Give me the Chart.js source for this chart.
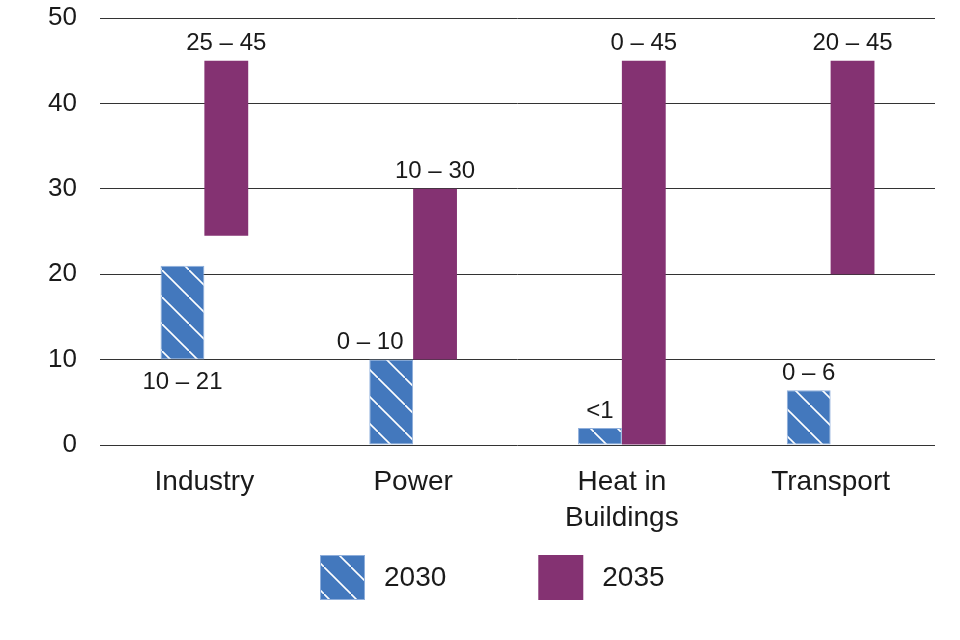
<!DOCTYPE html>
<html>
<head>
<meta charset="utf-8">
<script src="https://cdn.jsdelivr.net/npm/chart.js@4"></script>
<style>
  html, body { margin: 0; padding: 0; background: #fff; }
  #wrap { width: 960px; height: 640px; }
</style>
</head>
<body>
<div id="wrap"><canvas id="chart"></canvas></div>
<script>
const categories = ['Industry', 'Power', ['Heat in', 'Buildings'], 'Transport'];
const seriesNames = ['2030', '2035'];
const low2030 = [10, 0, 0, 0];
const high2030 = [21, 10, 2, 6.4];
const low2035 = [24.5, 10, 0, 20];
const high2035 = [45, 30, 45, 45];
const labels2030 = ['10 \u2013 21', '0 \u2013 10', '<1', '0 \u2013 6'];
const labels2035 = ['25 \u2013 45', '10 \u2013 30', '0 \u2013 45', '20 \u2013 45'];
const yTicks = [0, 10, 20, 30, 40, 50];

const FONT = "'Liberation Sans', Arial, sans-serif";
const BLUE = '#4378bd';
const PURPLE = '#843272';
const TEXT = '#1a1a1a';

function makeHatch() {
    const s = 27;
    const c = document.createElement('canvas');
    c.width = s; c.height = s;
    const g = c.getContext('2d');
    g.fillStyle = BLUE;
    g.fillRect(0, 0, s, s);
    g.strokeStyle = '#ffffff';
    g.lineWidth = 1.6;
    g.beginPath();
    g.moveTo(-2, -2); g.lineTo(s + 2, s + 2);
    g.stroke();
    return g.createPattern(c, 'repeat');
}
const hatch = makeHatch();

const pairs = (lo, hi) => lo.map((v, i) => [v, hi[i]]);

// bar value labels, drawn from the bar elements
const valueLabels = {
    id: 'valueLabels',
    afterDatasetsDraw(chart) {
        const ctx = chart.ctx;
        const texts = [labels2030, labels2035];
        ctx.save();
        ctx.font = '24px ' + FONT;
        ctx.fillStyle = TEXT;
        ctx.textAlign = 'center';
        ctx.textBaseline = 'middle';
        chart.data.datasets.forEach((ds, di) => {
            chart.getDatasetMeta(di).data.forEach((bar, i) => {
                let x = bar.x;
                let y = Math.min(bar.y, bar.base) - 17;
                if (di === 0 && i === 0) y = Math.max(bar.y, bar.base) + 23;
                if (di === 0 && i === 1) x -= 21;
                ctx.fillText(texts[di][i], x, y);
            });
        });
        ctx.restore();
    }
};

// legend below the axis labels
const bottomLegend = {
    id: 'bottomLegend',
    afterDraw(chart) {
        const ctx = chart.ctx;
        const fills = [hatch, PURPLE];
        const box = 45;
        const yTop = 555;
        let x = chart.width / 2 - 160;
        ctx.save();
        ctx.font = '28px ' + FONT;
        ctx.textBaseline = 'middle';
        ctx.textAlign = 'left';
        seriesNames.forEach((name, i) => {
            ctx.fillStyle = fills[i];
            ctx.fillRect(x, yTop, box, box);
            if (i === 0) {
                ctx.strokeStyle = '#8eaedb';
                ctx.lineWidth = 1;
                ctx.strokeRect(x + 0.5, yTop + 0.5, box - 1, box - 1);
            }
            ctx.fillStyle = TEXT;
            ctx.fillText(name, x + box + 19, yTop + box / 2 + 1);
            x += box + 19 + ctx.measureText(name).width + 92;
        });
        ctx.restore();
    }
};

new Chart(document.getElementById('chart'), {
    type: 'bar',
    data: {
        labels: categories,
        datasets: [
            {
                label: seriesNames[0],
                data: pairs(low2030, high2030),
                backgroundColor: hatch,
                borderColor: '#8eaedb',
                borderWidth: 1,
                borderSkipped: false
            },
            {
                label: seriesNames[1],
                data: pairs(low2035, high2035),
                backgroundColor: PURPLE,
                borderWidth: 0
            }
        ]
    },
    options: {
        responsive: true,
        maintainAspectRatio: false,
        animation: false,
        layout: { padding: { top: 18, right: 25, bottom: 95, left: 0 } },
        datasets: {
            bar: { categoryPercentage: 0.42, barPercentage: 1 }
        },
        scales: {
            x: {
                grid: { display: false, drawTicks: false },
                border: { display: false },
                ticks: {
                    color: TEXT,
                    font: { family: FONT, size: 28, lineHeight: 1.3 },
                    padding: 19,
                    maxRotation: 0
                },
                afterFit(scale) { scale.height = 100; }
            },
            y: {
                min: 0,
                max: 50,
                afterBuildTicks(scale) { scale.ticks = yTicks.map(v => ({ value: v })); },
                grid: { color: '#333333', lineWidth: 1, drawTicks: false },
                border: { display: false },
                ticks: {
                    color: TEXT,
                    font: { family: FONT, size: 26 },
                    padding: 23
                },
                afterFit(scale) {
                    scale.width = 100;
                    scale.paddingTop = 0;
                    scale.paddingBottom = 0;
                }
            }
        },
        plugins: {
            legend: { display: false },
            tooltip: { enabled: false }
        }
    },
    plugins: [valueLabels, bottomLegend]
});
</script>
</body>
</html>
